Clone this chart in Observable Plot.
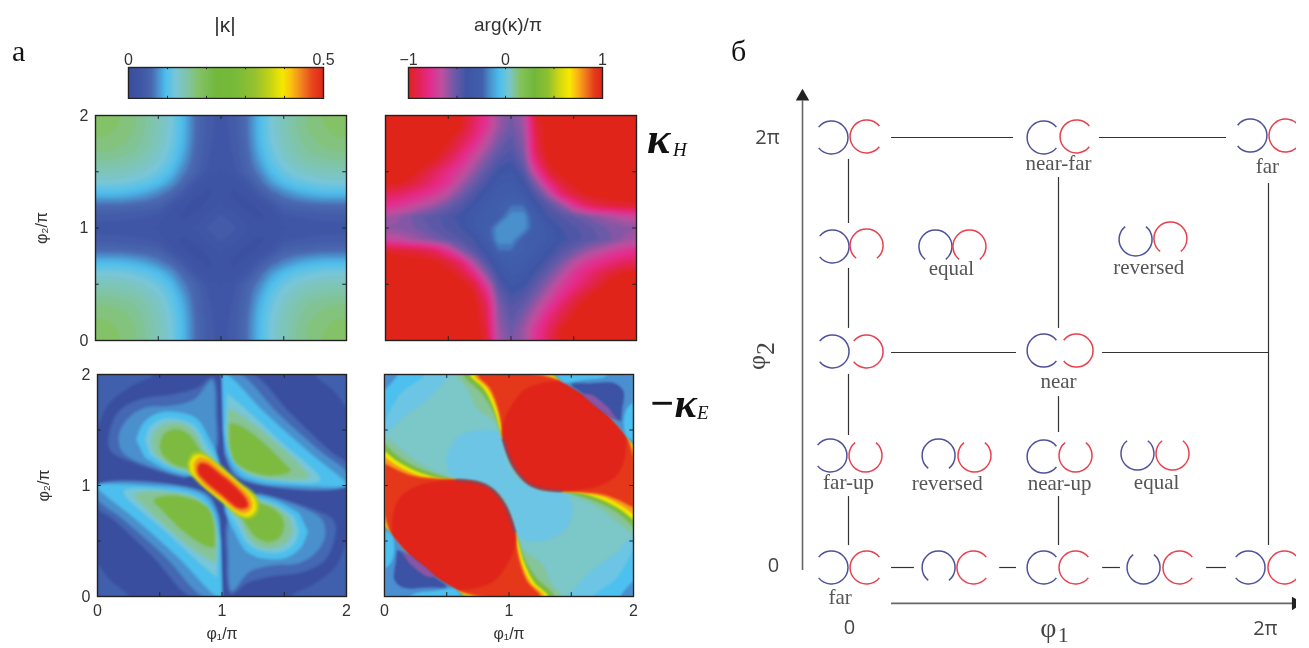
<!DOCTYPE html>
<html><head><meta charset="utf-8">
<script src="https://cdn.jsdelivr.net/npm/d3@7"></script>
<script src="https://cdn.jsdelivr.net/npm/@observablehq/plot@0.6"></script>
<style>html,body{margin:0;background:#fff}#root{position:relative;width:1309px;height:648px;overflow:hidden;background:#fff;filter:blur(.5px)}
#root>*{position:absolute}svg{background:transparent!important;max-width:none!important}</style>
</head><body><div id="root"></div>
<script>
// colour ramps as seen on the two colour bars
const kappaStops=[0,.06,.12,.19,.24,.30,.36,.45,.55,.65,.73,.79,.83,.88,.94,1];
const kappaColors=["#3a4ea0","#3f55a5","#4a68b0","#4cbfee","#78c6d8","#80c4a8","#84c268","#72b83a","#78ba3a","#96c22f","#c8d515","#f5e800","#fbc40e","#f38c1e","#e8481c","#e0241a"];
const argStops=[0,.06,.11,.17,.24,.30,.38,.42,.47,.52,.58,.65,.72,.78,.83,.87,.92,.96,1];
const argColors=["#e0241a","#e3245a","#e52b8e","#c04f9e","#6a5aa8","#3e55a5","#4060ad","#4a90cc","#4cc0ee","#7ac6cc","#84c258","#72b83a","#90c030","#d4d810","#f8ea00","#fbb515","#ef6f1e","#e43a1a","#e0241a"];

// top-left panel |kappa_H|: rows phi2 = 2 .. 0, columns phi1 = 0 .. 2, step 0.1
const kappaH=[
.186,.184,.180,.172,.160,.145,.125,.098,.066,.045,.035,.045,.066,.098,.125,.145,.160,.172,.180,.184,.186,
.184,.183,.179,.172,.160,.145,.125,.098,.066,.045,.034,.045,.066,.098,.125,.145,.160,.172,.179,.183,.184,
.180,.179,.176,.168,.157,.143,.123,.097,.065,.044,.033,.044,.065,.097,.123,.143,.157,.168,.176,.179,.180,
.172,.172,.168,.163,.153,.138,.118,.093,.062,.042,.032,.042,.062,.093,.118,.138,.153,.163,.168,.172,.172,
.160,.160,.157,.153,.144,.130,.112,.086,.059,.040,.031,.040,.059,.086,.112,.130,.144,.153,.157,.160,.160,
.145,.145,.143,.138,.130,.118,.101,.075,.056,.036,.029,.036,.056,.075,.101,.118,.130,.138,.143,.145,.145,
.125,.125,.123,.118,.112,.101,.084,.062,.036,.022,.027,.022,.036,.062,.084,.101,.112,.118,.123,.125,.125,
.098,.098,.097,.093,.086,.075,.062,.041,.022,.018,.026,.018,.022,.041,.062,.075,.086,.093,.097,.098,.098,
.066,.066,.065,.062,.059,.056,.036,.022,.016,.024,.032,.024,.016,.022,.036,.056,.059,.062,.065,.066,.066,
.045,.045,.044,.042,.040,.036,.022,.018,.024,.035,.042,.035,.024,.018,.022,.036,.040,.042,.044,.045,.045,
.035,.034,.033,.032,.031,.029,.027,.026,.032,.042,.050,.042,.032,.026,.027,.029,.031,.032,.033,.034,.035,
.045,.045,.044,.042,.040,.036,.022,.018,.024,.035,.042,.035,.024,.018,.022,.036,.040,.042,.044,.045,.045,
.066,.066,.065,.062,.059,.056,.036,.022,.016,.024,.032,.024,.016,.022,.036,.056,.059,.062,.065,.066,.066,
.098,.098,.097,.093,.086,.075,.062,.041,.022,.018,.026,.018,.022,.041,.062,.075,.086,.093,.097,.098,.098,
.125,.125,.123,.118,.112,.101,.084,.062,.036,.022,.027,.022,.036,.062,.084,.101,.112,.118,.123,.125,.125,
.145,.145,.143,.138,.130,.118,.101,.075,.056,.036,.029,.036,.056,.075,.101,.118,.130,.138,.143,.145,.145,
.160,.160,.157,.153,.144,.130,.112,.086,.059,.040,.031,.040,.059,.086,.112,.130,.144,.153,.157,.160,.160,
.172,.172,.168,.163,.153,.138,.118,.093,.062,.042,.032,.042,.062,.093,.118,.138,.153,.163,.168,.172,.172,
.180,.179,.176,.168,.157,.143,.123,.097,.065,.044,.033,.044,.065,.097,.123,.143,.157,.168,.176,.179,.180,
.184,.183,.179,.172,.160,.145,.125,.098,.066,.045,.034,.045,.066,.098,.125,.145,.160,.172,.179,.183,.184,
.186,.184,.180,.172,.160,.145,.125,.098,.066,.045,.035,.045,.066,.098,.125,.145,.160,.172,.180,.184,.186];

// top-right panel arg(kappa_H)/pi, same layout
const argH=[
-1,-1,-1,-1,-1,-1,-.98,-.86,-.74,-.58,-.52,-.6,-.95,-1,-1,-1,-1,-1,-1,-1,-1,
-1,-1,-1,-1,-1,-1,-.97,-.85,-.73,-.58,-.5,-.58,-.92,-1,-1,-1,-1,-1,-1,-1,-1,
-1,-1,-1,-1,-1,-.98,-.9,-.8,-.66,-.54,-.47,-.56,-.9,-1,-1,-1,-1,-1,-1,-1,-1,
-1,-1,-1,-1,-1,-.94,-.84,-.72,-.6,-.49,-.44,-.54,-.88,-1,-1,-1,-1,-1,-1,-1,-1,
-1,-1,-1,-1,-.95,-.86,-.76,-.64,-.53,-.44,-.4,-.5,-.82,-.98,-1,-1,-1,-1,-1,-1,-1,
-1,-1,-1,-.93,-.85,-.77,-.68,-.57,-.47,-.38,-.35,-.44,-.7,-.92,-.99,-1,-1,-1,-1,-1,-1,
-.98,-.97,-.93,-.87,-.8,-.72,-.6,-.5,-.41,-.33,-.3,-.38,-.55,-.78,-.92,-.98,-1,-1,-1,-1,-1,
-.86,-.85,-.8,-.76,-.7,-.62,-.52,-.43,-.35,-.28,-.26,-.32,-.44,-.6,-.82,-.92,-.97,-.99,-1,-1,-1,
-.76,-.72,-.68,-.62,-.57,-.5,-.44,-.37,-.3,-.24,-.2,-.2,-.37,-.45,-.55,-.72,-.84,-.9,-.92,-.94,-.95,
-.6,-.57,-.52,-.48,-.45,-.42,-.38,-.32,-.26,-.24,-.13,-.13,-.28,-.4,-.44,-.48,-.52,-.56,-.6,-.64,-.66,
-.56,-.55,-.53,-.5,-.46,-.43,-.4,-.33,-.25,-.13,-.12,-.13,-.26,-.34,-.4,-.43,-.46,-.5,-.53,-.55,-.56,
-.66,-.64,-.6,-.56,-.52,-.48,-.44,-.4,-.28,-.13,-.13,-.24,-.26,-.32,-.38,-.42,-.45,-.48,-.52,-.57,-.6,
-.95,-.94,-.92,-.9,-.84,-.72,-.55,-.45,-.37,-.2,-.2,-.24,-.3,-.37,-.44,-.5,-.57,-.62,-.68,-.72,-.76,
-1,-1,-1,-.99,-.97,-.92,-.82,-.6,-.44,-.32,-.26,-.28,-.35,-.43,-.52,-.62,-.7,-.76,-.8,-.85,-.86,
-1,-1,-1,-1,-1,-.98,-.92,-.78,-.55,-.38,-.3,-.33,-.41,-.5,-.6,-.72,-.8,-.87,-.93,-.97,-.98,
-1,-1,-1,-1,-1,-1,-.99,-.92,-.7,-.44,-.35,-.38,-.47,-.57,-.68,-.77,-.85,-.93,-1,-1,-1,
-1,-1,-1,-1,-1,-1,-1,-.98,-.82,-.5,-.4,-.44,-.53,-.64,-.76,-.86,-.95,-1,-1,-1,-1,
-1,-1,-1,-1,-1,-1,-1,-1,-.88,-.54,-.44,-.49,-.6,-.72,-.84,-.94,-1,-1,-1,-1,-1,
-1,-1,-1,-1,-1,-1,-1,-1,-.9,-.56,-.47,-.54,-.66,-.8,-.9,-.98,-1,-1,-1,-1,-1,
-1,-1,-1,-1,-1,-1,-1,-1,-.92,-.58,-.5,-.58,-.73,-.85,-.97,-1,-1,-1,-1,-1,-1,
-1,-1,-1,-1,-1,-1,-1,-1,-.95,-.6,-.52,-.58,-.74,-.86,-.98,-1,-1,-1,-1,-1,-1];

// bottom-left |kappa_E|: contour bands, as phi1,phi2 pairs
const kappaELayers=[
["#4060ae",[0,2,.45,2,.25,1.88,.08,1.72,0,1.5]],
["#4060ae",[2,2,1.75,2,1.9,1.85,2,1.7]],
["#4060ae",[0,0,.25,0,.1,.15,0,.3]],
["#4060ae",[2,0,1.55,0,1.75,.12,1.92,.28,2,.5]],
["#4468b2",[.62,1.09,.3,1.2,.1,1.32,.1,1.5,.18,1.68,.35,1.78,.6,1.82,.8,1.88,.93,1.98,.97,1.6,.97,1.35,.9,1.15]],
["#4468b2",[1.38,.91,1.7,.8,1.9,.68,1.9,.5,1.82,.32,1.65,.22,1.4,.18,1.2,.12,1.07,.02,1.03,.4,1.03,.65,1.1,.85]],
["#4468b2",[1,2,1.25,2,1.55,1.65,1.88,1.3,2,1.2,2,1,1.3,1.01,1.1,1.1,1.02,1.3]],
["#4468b2",[1,0,.75,0,.45,.35,.12,.7,0,.8,0,1,.7,.99,.9,.9,.98,.7]],
["#4a90cc",[.7,1.07,.4,1.18,.2,1.3,.17,1.45,.24,1.6,.38,1.7,.6,1.72,.78,1.78,.92,1.95,.95,1.6,.95,1.35,.88,1.15]],
["#4a90cc",[1.3,.93,1.6,.82,1.8,.7,1.83,.55,1.76,.4,1.62,.3,1.4,.28,1.22,.22,1.08,.05,1.05,.4,1.05,.65,1.12,.85]],
["#4a90cc",[1,2,1.15,2,1.45,1.65,1.8,1.3,2,1.12,2,1,1.3,1.01,1.1,1.1,1.02,1.3]],
["#4a90cc",[1,0,.85,0,.55,.35,.2,.7,0,.88,0,1,.7,.99,.9,.9,.98,.7]],
["#4cbfee",[.31,1.41,.36,1.55,.48,1.65,.65,1.66,.8,1.6,.9,1.42,.98,1.2,.95,1.1,.75,1.09,.56,1.14,.38,1.25]],
["#4cbfee",[1.69,.59,1.64,.45,1.52,.35,1.35,.34,1.2,.4,1.1,.58,1.02,.8,1.05,.9,1.25,.91,1.44,.86,1.62,.75]],
["#4cbfee",[1,2,1.04,2,1.35,1.65,1.7,1.3,2,1.02,2,1,1.6,1,1.3,1.03,1.14,1.1,1.05,1.25,1.01,1.5]],
["#4cbfee",[1,0,.96,0,.65,.35,.3,.7,0,.98,0,1,.4,1,.7,.97,.86,.9,.95,.75,.99,.5]],
["#78c6d8",[.38,1.41,.42,1.53,.52,1.6,.65,1.6,.78,1.54,.87,1.38,.95,1.18,.75,1.12,.56,1.18,.42,1.28]],
["#78c6d8",[1.62,.59,1.58,.47,1.48,.4,1.35,.4,1.22,.46,1.13,.62,1.05,.82,1.25,.88,1.44,.82,1.58,.72]],
["#78c6d8",[1.04,1.83,1.2,1.68,1.45,1.42,1.79,1.05,1.4,1.05,1.18,1.12,1.08,1.25,1.03,1.5]],
["#78c6d8",[.96,.17,.8,.32,.55,.58,.21,.95,.6,.95,.82,.88,.92,.75,.97,.5]],
["#86c498",[.43,1.4,.47,1.5,.56,1.56,.68,1.56,.78,1.48,.85,1.32,.92,1.17,.75,1.13,.57,1.19,.46,1.29]],
["#86c498",[1.57,.6,1.53,.5,1.44,.44,1.32,.44,1.22,.52,1.15,.68,1.08,.83,1.25,.87,1.43,.81,1.54,.71]],
["#86c498",[1.05,1.7,1.2,1.6,1.42,1.4,1.64,1.17,1.7,1.08,1.4,1.06,1.2,1.12,1.09,1.25,1.04,1.45]],
["#86c498",[.95,.3,.8,.4,.58,.6,.36,.83,.3,.92,.6,.94,.8,.88,.91,.75,.96,.55]],
["#7cba40",[.5,1.35,.53,1.46,.62,1.51,.72,1.47,.79,1.38,.85,1.26,.88,1.17,.75,1.15,.6,1.2,.52,1.28]],
["#7cba40",[1.5,.65,1.47,.54,1.38,.49,1.28,.53,1.21,.62,1.15,.74,1.12,.83,1.25,.85,1.4,.8,1.48,.72]],
["#7cba40",[1.06,1.56,1.14,1.54,1.3,1.42,1.5,1.2,1.55,1.13,1.4,1.09,1.2,1.14,1.1,1.22,1.06,1.38]],
["#7cba40",[.94,.44,.86,.46,.7,.58,.5,.8,.45,.87,.6,.91,.8,.86,.9,.78,.94,.62]],
["#a8c820",[.72,1.2,.76,1.29,.84,1.3,.97,1.2,1.13,1.04,1.28,.9,1.29,.76,1.22,.7,1.14,.72,1,.85,.84,1,.73,1.12]],
["#f5e800",[.74,1.2,.78,1.27,.85,1.27,.96,1.18,1.12,1.03,1.26,.88,1.27,.78,1.21,.72,1.14,.74,1,.86,.84,1.01,.75,1.12]],
["#f39a1a",[.77,1.19,.81,1.25,.88,1.24,.99,1.14,1.11,1.03,1.23,.89,1.24,.8,1.19,.75,1.12,.77,1,.88,.85,1.01,.78,1.11]],
["#e0241a",[.8,1.15,.82,1.2,.87,1.2,.98,1.11,1.1,1,1.2,.87,1.21,.81,1.17,.79,1.12,.8,1,.91,.87,1.03,.81,1.1]]
];

// bottom-right arg(kappa_E)/pi: regions, as phi1,phi2 pairs
const argELayers=[
["#6cc5e4",[.49,1.23,.57,1.42,.745,1.5,.91,1.48,.95,1.38,.99,1.2,1.07,1.06,1.23,.99,1.44,.94,1.51,.81,1.47,.63,1.31,.51,1.12,.51,1.05,.58,1.01,.78,.91,.94,.745,1.03,.58,1.06,.52,1.11]],
["#6cc5e4",[.53,2,.34,1.77,.155,1.62,0,1.47,0,2]],
["#6cc5e4",[1.47,0,1.66,.23,1.845,.38,2,.53,2,0]],
["#4cc0ee",[0,1.57,.13,1.83,.32,2,0,2]],
["#4cc0ee",[2,.43,1.87,.17,1.68,0,2,0]],
["#4a8fd0",[0,1.86,.1,2,0,2]],
["#4a8fd0",[2,.14,1.9,0,2,0]],
["#86c49a",[0,1.44,.12,1.34,.25,1.22,.4,1.13,.58,1.05,.745,1.03,.86,.97,.97,.82,1.05,.57,1.12,.42,1.26,.3,1.34,.12,1.42,0,.62,0,.56,.07,.4,.18,.21,.36,.06,.55,0,.63]],
["#86c49a",[2,.56,1.88,.66,1.75,.78,1.6,.87,1.42,.95,1.255,.97,1.14,1.03,1.03,1.18,.95,1.43,.88,1.58,.74,1.7,.66,1.88,.58,2,1.38,2,1.44,1.93,1.6,1.82,1.79,1.64,1.94,1.45,2,1.37]],
["#7cba40",[0,1.38,.1,1.27,.25,1.17,.42,1.1,.58,1.05,.745,1.03,.86,.97,.97,.82,1.05,.57,1.07,.52,1.12,.35,1.22,.17,1.36,0,.62,0,.56,.07,.4,.18,.21,.36,.06,.55,0,.63]],
["#7cba40",[2,.62,1.9,.73,1.75,.83,1.58,.9,1.42,.95,1.255,.97,1.14,1.03,1.03,1.18,.95,1.43,.93,1.48,.88,1.65,.78,1.83,.64,2,1.38,2,1.44,1.93,1.6,1.82,1.79,1.64,1.94,1.45,2,1.37]],
["#f5e800",[0,1.31,.1,1.22,.25,1.13,.42,1.07,.58,1.05,.745,1.03,.86,.97,.97,.82,1.05,.57,1.07,.5,1.12,.31,1.2,.13,1.31,0,.69,0,.56,.07,.4,.18,.21,.36,.06,.55,0,.65]],
["#f5e800",[2,.69,1.9,.78,1.75,.87,1.58,.93,1.42,.95,1.255,.97,1.14,1.03,1.03,1.18,.95,1.43,.93,1.5,.88,1.69,.8,1.87,.69,2,1.31,2,1.44,1.93,1.6,1.82,1.79,1.64,1.94,1.45,2,1.35]],
["#f39a1a",[0,1.26,.1,1.18,.25,1.1,.42,1.06,.58,1.05,.745,1.03,.86,.97,.97,.82,1.05,.57,1.06,.48,1.1,.3,1.17,.13,1.28,0,.74,0,.56,.07,.4,.18,.21,.36,.06,.55,0,.68]],
["#f39a1a",[2,.74,1.9,.82,1.75,.9,1.58,.94,1.42,.95,1.255,.97,1.14,1.03,1.03,1.18,.95,1.43,.94,1.52,.9,1.7,.83,1.87,.72,2,1.26,2,1.44,1.93,1.6,1.82,1.79,1.64,1.94,1.45,2,1.32]],
["#e5381b",[0,1.2,.12,1.13,.25,1.08,.42,1.06,.58,1.05,.745,1.03,.86,.97,.97,.82,1.05,.57,1.06,.46,1.09,.3,1.15,.13,1.25,0,.78,0,.56,.07,.4,.18,.21,.36,.06,.55,0,.75]],
["#e5381b",[2,.8,1.88,.87,1.75,.92,1.58,.94,1.42,.95,1.255,.97,1.14,1.03,1.03,1.18,.95,1.43,.94,1.54,.91,1.7,.85,1.87,.75,2,1.22,2,1.44,1.93,1.6,1.82,1.79,1.64,1.94,1.45,2,1.25]],
["#e0241a",[.06,.55,.07,.75,.13,.9,.27,1,.45,1.04,.58,1.05,.745,1.03,.86,.97,.97,.82,1.05,.57,1.04,.42,.98,.28,.88,.14,.75,.08,.62,.06,.56,.07,.4,.18,.21,.36]],
["#e0241a",[1.94,1.45,1.93,1.25,1.87,1.1,1.73,1,1.55,.96,1.42,.95,1.255,.97,1.14,1.03,1.03,1.18,.95,1.43,.96,1.58,1.02,1.72,1.12,1.86,1.25,1.92,1.38,1.94,1.44,1.93,1.6,1.82,1.79,1.64]],
["#4a8fd0",[0,.63,.06,.55,.21,.36,.4,.18,.56,.07,.62,0,0,0]],
["#4a8fd0",[2,1.37,1.94,1.45,1.79,1.64,1.6,1.82,1.44,1.93,1.38,2,2,2]],
["#4cc0ee",[0,.6,.06,.55,.08,.42,.05,.3,0,.25]],
["#4cc0ee",[.62,0,.56,.07,.4,.05,.25,.03,.2,0]],
["#4cc0ee",[2,1.4,1.94,1.45,1.92,1.58,1.95,1.7,2,1.75]],
["#4cc0ee",[1.38,2,1.44,1.93,1.6,1.95,1.75,1.97,1.8,2]],
["#3c52a4",[.1,.42,.21,.36,.4,.18,.5,.09,.35,.08,.15,.08,.08,.15,.09,.3]],
["#3c52a4",[1.9,1.58,1.79,1.64,1.6,1.82,1.5,1.91,1.65,1.92,1.85,1.92,1.92,1.85,1.91,1.7]],
["#8a55a6",[.13,.41,.21,.36,.4,.18,.34,.18,.2,.3]],
["#8a55a6",[1.87,1.59,1.79,1.64,1.6,1.82,1.66,1.82,1.8,1.7]]
];
// the thin blue dotted seams where the phase wraps
const argESeams=[
[.58,1.05,.745,1.03,.86,.97,.97,.82,1.05,.57],
[1.42,.95,1.255,.97,1.14,1.03,1.03,1.18,.95,1.43]];

// right-hand diagram: ring pairs [phi1, phi2, gap direction in degrees]
const blueRings=[[-.081,2,180],[.929,2,0],[1.914,2.009,180],[-.076,1.493,180],[.414,1.493,90],[1.367,1.526,270],
[-.076,1.005,180],[.929,1.009,0],[-.086,.521,180],[.429,.521,90],[.929,.516,0],[1.376,.53,270],
[-.081,0,180],[.429,0,90],[.929,0,0],[1.405,0,270],[1.905,0,180]];
const redRings=[[.086,2.005,0],[1.086,2.005,0],[2.081,2.009,0],[.086,1.498,90],[.576,1.493,90],[1.533,1.53,90],
[.086,1.005,180],[1.086,1.009,180],[.081,.521,270],[.6,.521,270],[1.081,.521,270],[1.543,.53,270],
[.086,0,0],[.595,0,0],[1.081,0,0],[1.576,0,0],[2.076,0,0]];
const hSegments=[[2,.205,.786],[2,1.195,1.8],[1,.205,.8],[1,1.21,2.005],[0,.205,.314],[0,.72,.8],[0,1.21,1.295],[0,1.705,1.8]];
const vSegments=[[0,1.898,1.6],[0,1.391,1.112],[0,.898,.614],[0,.33,.102],[1,1.814,1.112],[1,.795,.628],[1,.33,.102],[2,1.786,.102]];
const stateLabels=[["near-far",1,1.88],["far",1.995,1.865],["equal",.49,1.39],["reversed",1.43,1.395],["near",1,.865],
["far-up",0,.395],["reversed",.47,.39],["near-up",1.005,.39],["equal",1.467,.395],["far",-.04,-.14]];
const diagramTicks=[["2π",-.386,2],["0",-.357,.01],["0",.005,-.28],["2π",1.985,-.284]];

const root=document.getElementById("root");
const F="Liberation Sans";
const scaleOf=(s,c)=>{const f=d3.scaleLinear().domain(s).range(c).clamp(true);return t=>f(t)};
const kappaColor={type:"linear",domain:[0,.5],interpolate:scaleOf(kappaStops,kappaColors),clamp:true};
const argColor={type:"linear",domain:[-1,1],interpolate:scaleOf(argStops,argColors),clamp:true};
const pairs=p=>d3.range(0,p.length,2).map(i=>({x:p[i],y:p[i+1]}));
const polys=ls=>ls.map(([c,p])=>Plot.line(pairs(p),{x:"x",y:"y",fill:c,stroke:"none",curve:"catmull-rom",clip:"frame"}));

function place(node,left,top){node.style.left=left+"px";node.style.top=top+"px";root.appendChild(node)}
let filterId=0;
function soften(plot,sd){
  const id="soft"+(filterId++),ns="http://www.w3.org/2000/svg";
  const defs=document.createElementNS(ns,"defs"),f=document.createElementNS(ns,"filter"),b=document.createElementNS(ns,"feGaussianBlur");
  f.setAttribute("id",id);f.setAttribute("filterUnits","userSpaceOnUse");
  f.setAttribute("x","0");f.setAttribute("y","0");f.setAttribute("width","1000");f.setAttribute("height","1000");
  f.setAttribute("color-interpolation-filters","sRGB");b.setAttribute("stdDeviation",sd);
  f.appendChild(b);defs.appendChild(f);plot.insertBefore(defs,plot.firstChild);
  plot.querySelectorAll("g[clip-path]").forEach(g=>g.setAttribute("filter",`url(#${id})`));
}
function panel({left,top,w,h,marks,yAxis,xAxis,color,bg,blur}){
  const ml=64,mr=20,mt=12,mb=50,t=[.5,1,1.5];
  const plot=Plot.plot({width:w+ml+mr,height:h+mt+mb,marginLeft:ml,marginRight:mr,marginTop:mt,marginBottom:mb,
    style:{fontFamily:F,color:"#333"},
    x:{domain:[0,2],axis:null},y:{domain:[0,2],axis:null},color,
    marks:[
      Plot.frame({fill:bg||"#3a4ea0",stroke:"none"}),
      ...marks,
      Plot.ruleX(t,{y1:0,y2:.035,stroke:"#222"}),Plot.ruleX(t,{y1:2,y2:1.965,stroke:"#222"}),
      Plot.ruleY(t,{x1:0,x2:.03,stroke:"#222"}),Plot.ruleY(t,{x1:2,x2:1.97,stroke:"#222"}),
      Plot.frame({stroke:"#222",strokeWidth:1.4}),
      yAxis?Plot.axisY({ticks:[0,1,2],tickFormat:d=>String(d),tickSize:0,tickPadding:7,fontSize:16,label:"φ₂/π",labelAnchor:"center",labelArrow:"none",labelOffset:60}):null,
      xAxis?Plot.axisX({ticks:[0,1,2],tickFormat:d=>String(d),tickSize:0,tickPadding:8,fontSize:16,label:"φ₁/π",labelAnchor:"center",labelArrow:"none",labelOffset:42}):null
    ]});
  soften(plot,blur);
  place(plot,left-ml,top-mt);
}
const grid={width:21,height:21,x1:-.05,x2:2.05,y1:2.05,y2:-.05,clip:"frame"};
panel({left:95,top:115,w:251,h:225,yAxis:true,color:kappaColor,blur:1.6,
  marks:[Plot.contour(kappaH,{...grid,fill:Plot.identity,thresholds:d3.range(0,.5,.01)})]});
panel({left:385,top:115,w:251,h:225,color:argColor,bg:"#e0241a",blur:1.6,
  marks:[Plot.contour(argH,{...grid,fill:Plot.identity,thresholds:d3.range(-1,1,.04)})]});
panel({left:97,top:374,w:249,h:222,yAxis:true,xAxis:true,bg:"#3a4ea0",blur:1.6,marks:polys(kappaELayers)});
panel({left:384,top:374,w:249,h:222,xAxis:true,bg:"#7cc7c8",blur:.8,marks:[...polys(argELayers),
  ...argESeams.map(p=>Plot.line(pairs(p),{x:"x",y:"y",stroke:"#3a55a5",strokeWidth:1.8,strokeDasharray:"2,2",curve:"catmull-rom",clip:"frame"}))]});

function colorbar({left,w,domain,color,ticks,minor}){
  const mt=67,ml=20;
  const plot=Plot.plot({width:w+2*ml,height:mt+30+2,marginLeft:ml,marginRight:ml,marginTop:mt,marginBottom:1,
    style:{fontFamily:F,color:"#333"},
    x:{domain,axis:null},y:{domain:[0,1],axis:null},color,
    marks:[
      Plot.raster({fill:(x,y)=>x,x1:domain[0],x2:domain[1],y1:0,y2:1,pixelSize:1}),
      Plot.ruleX(minor,{y1:0,y2:.07,stroke:"#222"}),Plot.ruleX(minor,{y1:1,y2:.93,stroke:"#222"}),
      Plot.frame({stroke:"#222",strokeWidth:1.4}),
      Plot.axisX({anchor:"top",ticks,tickSize:0,tickPadding:3,fontSize:16,label:null,tickFormat:d=>String(d).replace("-","−")})
    ]});
  place(plot,left-ml,0);
}
colorbar({left:127.5,w:195,domain:[0,.5],color:kappaColor,ticks:[0,.5],minor:[.1,.2,.3,.4]});
colorbar({left:408,w:194,domain:[-1,1],color:argColor,ticks:[-1,0,1],minor:[-.5,0,.5]});

// diagram
const segStyle={stroke:"#333",strokeWidth:1.2};
const ringSymbol={draw(c,size){const r=Math.sqrt(size/Math.PI),a=.68;c.moveTo(r*Math.cos(a),r*Math.sin(a));c.arc(0,0,r,a,2*Math.PI-a)}};
const rings=(d,stroke)=>Plot.dot(d,{x:d=>d[0],y:d=>d[1],rotate:d=>d[2],symbol:ringSymbol,r:16.5,fill:"none",stroke,strokeWidth:1.5});
const diagram=Plot.plot({width:1296,height:648,margin:0,
  x:{domain:[0,2],range:[848,1268],axis:null},y:{domain:[0,2],range:[567,137],axis:null},
  style:{fontFamily:"Liberation Serif"},
  marks:[
    Plot.ruleY(hSegments,{y:d=>d[0],x1:d=>d[1],x2:d=>d[2],...segStyle}),
    Plot.ruleX(vSegments,{x:d=>d[0],y1:d=>d[1],y2:d=>d[2],...segStyle}),
    Plot.ruleX([-.219],{y1:-.014,y2:2.17,stroke:"#666",strokeWidth:1.6}),
    Plot.dot([[-.219,2.19]],{x:d=>d[0],y:d=>d[1],symbol:"triangle",r:5,fill:"#222",stroke:"none"}),
    Plot.ruleY([-.167],{x1:.205,x2:2.14,stroke:"#666",strokeWidth:1.6}),
    Plot.dot([[2.13,-.167]],{x:d=>d[0],y:d=>d[1],rotate:90,symbol:"triangle",r:5,fill:"#222",stroke:"none"}),
    rings(blueRings,"#4f5299"),rings(redRings,"#e8404e"),
    Plot.text(stateLabels,{x:d=>d[1],y:d=>d[2],text:d=>d[0],fontSize:21,fill:"#555"}),
    Plot.text(diagramTicks,{x:d=>d[1],y:d=>d[2],text:d=>d[0],fontSize:20,fill:"#444",fontFamily:"Open Sans"}),
    Plot.text([["φ",.952,-.28]],{x:d=>d[1],y:d=>d[2],text:d=>d[0],fontSize:28,fill:"#444"}),
    Plot.text([["1",1.023,-.315]],{x:d=>d[1],y:d=>d[2],text:d=>d[0],fontSize:22,fill:"#444"}),
    Plot.text([["φ",-.438,.954],["2",-.395,1.019]],{x:d=>d[1],y:d=>d[2],text:d=>d[0],fontSize:26,fill:"#444",rotate:-90})
  ]});
const clipBox=document.createElement("div");
clipBox.style.cssText="width:1296px;height:648px;overflow:hidden;left:0;top:0;pointer-events:none";
clipBox.appendChild(diagram);root.appendChild(clipBox);

function note(html,left,top,css){const d=document.createElement("div");d.innerHTML=html;
  d.style.cssText=`left:${left}px;top:${top}px;line-height:1;white-space:nowrap;font-family:'Liberation Serif';color:#111;${css}`;root.appendChild(d)}
note("а",12,36,"font-size:30px");
note("б",731,36,"font-size:30px");
note("|κ|",225,14,"font-size:21px;font-family:'Liberation Sans';color:#333;transform:translateX(-50%)");
note("arg(κ)/π",508,15,"font-size:19px;font-family:'Liberation Sans';color:#333;transform:translateX(-50%)");
note("κ",647,117,"font-size:44px;font-weight:bold;font-style:italic");
note("H",673,140,"font-size:19px;font-style:italic");
note("−κ",649,382,"font-size:42px;font-weight:bold;font-style:italic");
note("E",697,403,"font-size:19px;font-style:italic");
</script></body></html>
